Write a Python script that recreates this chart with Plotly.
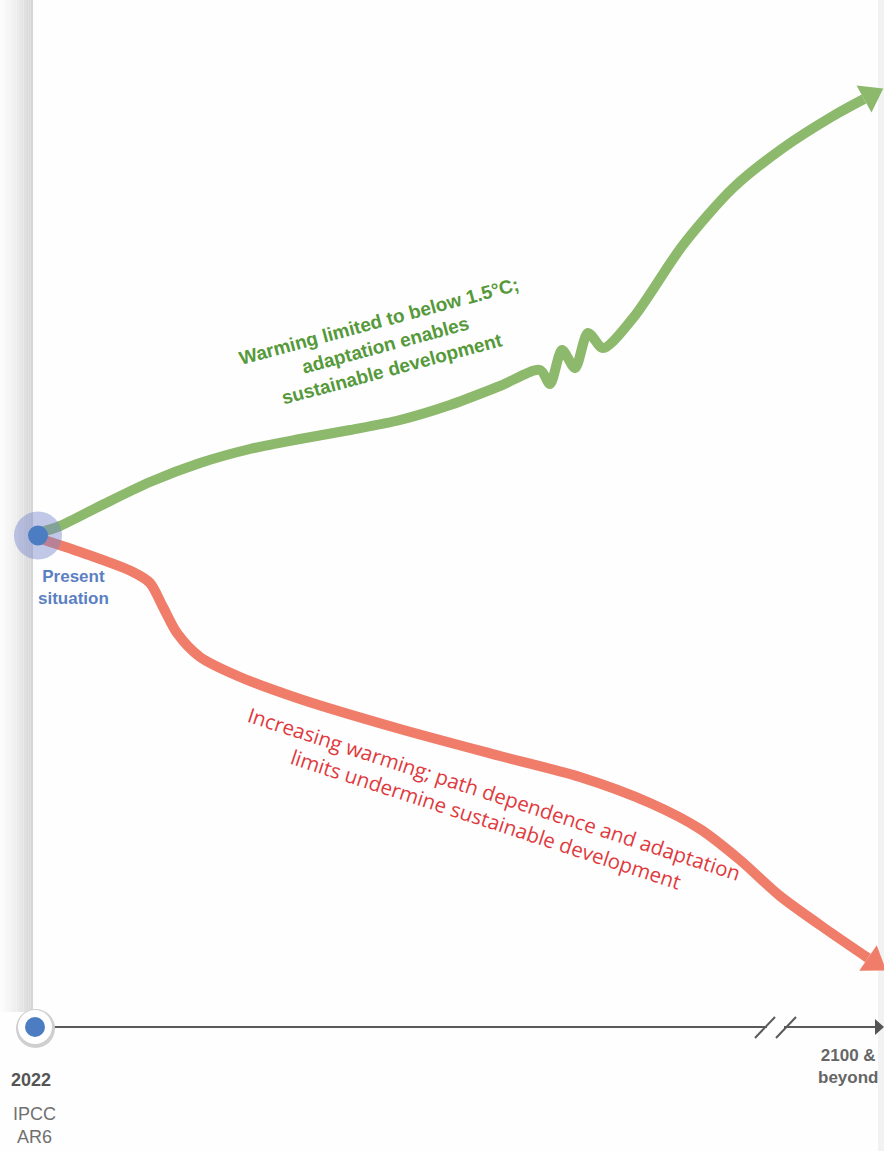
import numpy as np
import plotly.graph_objects as go

# ---- data (diagram units: x = time axis position, y = vertical position, 0 at top) ----
green_x = [38, 60, 100, 150, 200, 250, 300, 350, 400, 450, 500, 540, 550, 562, 575, 588, 603, 633, 683, 733, 783, 833, 864]
green_y = [533, 526, 506, 482, 463, 449, 439, 430, 420, 405, 386, 370, 384, 350, 368, 333, 348, 318, 245, 188, 148, 116, 99]

red_x = [38, 83, 133, 150, 163, 177, 200, 240, 300, 400, 500, 580, 650, 700, 740, 780, 830, 868]
red_y = [538, 553, 572, 583, 607, 633, 657, 677, 699, 729, 756, 777, 803, 829, 860, 896, 932, 958]

green_label = "Warming limited to below 1.5°C;<br>adaptation enables<br>sustainable development"
red_label = "Increasing warming; path dependence and adaptation<br>limits undermine sustainable development"

start_label = "Present<br>situation"
year_start = "2022"
year_end = "2100 &<br>beyond"
source = "IPCC<br>AR6"

GREEN = "#8db96c"
RED = "#ef7d6a"
GREEN_TXT = "#55993a"
RED_TXT = "#e03a3e"
BLUE = "#4c7dc3"

fig = go.Figure()

# left grey gradient bar
shapes = []
n = 14
for i in range(n):
    x0 = 33 * i / n
    x1 = 33 * (i + 1) / n
    g = int(252 - 38 * (i / (n - 1)) ** 1.3)
    shapes.append(dict(type="rect", x0=x0, x1=x1, y0=0, y1=1012, line=dict(width=0),
                       fillcolor=f"rgb({g},{g},{g})", layer="below"))
# faint right edge strip
shapes.append(dict(type="rect", x0=878, x1=884, y0=0, y1=1151, line=dict(width=0),
                   fillcolor="#f2f2f2", layer="below"))

# timeline axis line
shapes.append(dict(type="line", x0=45, x1=876, y0=1027, y1=1027, line=dict(color="#5a5a5a", width=2)))
shapes.append(dict(type="rect", x0=767, x1=784, y0=1024, y1=1030, fillcolor="#fefefe", line=dict(width=0)))
# break marks
for bx in (765, 786):
    shapes.append(dict(type="line", x0=bx - 10, x1=bx + 10, y0=1038, y1=1017, line=dict(color="#5a5a5a", width=2)))
# axis arrowhead
shapes.append(dict(type="path", path="M 875 1019 L 884 1027 L 875 1035 Z", fillcolor="#555555", line=dict(width=0)))

# timeline start circle
shapes.append(dict(type="circle", x0=16, x1=55, y0=1009, y1=1048, fillcolor="#cfcfcf", line=dict(width=0)))
shapes.append(dict(type="circle", x0=18, x1=52, y0=1010, y1=1044, fillcolor="white", line=dict(width=0)))
shapes.append(dict(type="circle", x0=25, x1=45, y0=1017, y1=1037, fillcolor=BLUE, line=dict(width=0)))

fig.update_layout(shapes=shapes)


def arrow_head(xs, ys, length, width):
    x1, y1 = xs[-1], ys[-1]
    x0, y0 = xs[-2], ys[-2]
    d = np.array([x1 - x0, y1 - y0], float)
    d /= np.linalg.norm(d)
    nrm = np.array([-d[1], d[0]])
    tip = np.array([x1, y1]) + d * length
    a = np.array([x1, y1]) + nrm * width / 2
    b = np.array([x1, y1]) - nrm * width / 2
    return [a[0], tip[0], b[0], a[0]], [a[1], tip[1], b[1], a[1]]


for xs, ys, col in ((green_x, green_y, GREEN), (red_x, red_y, RED)):
    fig.add_trace(go.Scatter(x=xs, y=ys, mode="lines", line=dict(color=col, width=10, shape="spline", smoothing=0.8),
                             hoverinfo="skip", showlegend=False))
    ax, ay = arrow_head(xs, ys, 22, 31)
    fig.add_trace(go.Scatter(x=ax, y=ay, mode="lines", fill="toself", fillcolor=col, line=dict(width=0, color=col),
                             hoverinfo="skip", showlegend=False))

# present situation marker
cy = (green_y[0] + red_y[0]) / 2
fig.add_trace(go.Scatter(x=[green_x[0]], y=[cy], mode="markers",
                         marker=dict(size=48, color="rgba(120,135,205,0.45)", line=dict(width=0)),
                         hoverinfo="skip", showlegend=False))
fig.add_trace(go.Scatter(x=[green_x[0]], y=[cy], mode="markers",
                         marker=dict(size=20, color=BLUE, line=dict(width=0)),
                         hoverinfo="skip", showlegend=False))

ann = [
    dict(x=73, y=587, text="<b>" + start_label + "</b>", showarrow=False,
         font=dict(family="Liberation Sans, Arial", size=17, color="#5b80c2"), xanchor="center", yanchor="middle"),
    dict(x=385, y=345, text="<b>" + green_label + "</b>", showarrow=False, textangle=-15,
         font=dict(family="Liberation Sans, Arial", size=19, color=GREEN_TXT), xanchor="center", yanchor="middle"),
    dict(x=490, y=806, text=red_label, showarrow=False, textangle=18,
         font=dict(family="Open Sans, Liberation Sans", size=20.5, color=RED_TXT), xanchor="center", yanchor="middle"),
    dict(x=31, y=1080, text="<b>" + year_start + "</b>", showarrow=False,
         font=dict(family="Liberation Sans, Arial", size=18, color="#555555"), xanchor="center", yanchor="middle"),
    dict(x=34, y=1125, text=source, showarrow=False,
         font=dict(family="Liberation Sans, Arial", size=18, color="#707070"), xanchor="center", yanchor="middle"),
    dict(x=848, y=1066, text="<b>" + year_end + "</b>", showarrow=False,
         font=dict(family="Liberation Sans, Arial", size=17, color="#666666"), xanchor="center", yanchor="middle"),
]

fig.update_layout(
    annotations=ann,
    width=884, height=1151,
    margin=dict(l=0, r=0, t=0, b=0),
    paper_bgcolor="#fefefe", plot_bgcolor="#fefefe",
    xaxis=dict(range=[0, 884], visible=False, fixedrange=True),
    yaxis=dict(range=[1151, 0], visible=False, fixedrange=True),
    showlegend=False,
)

fig.write_html("out.html", config={"displayModeBar": False},
               post_script="document.body.style.margin='0';document.body.style.overflow='hidden';")
